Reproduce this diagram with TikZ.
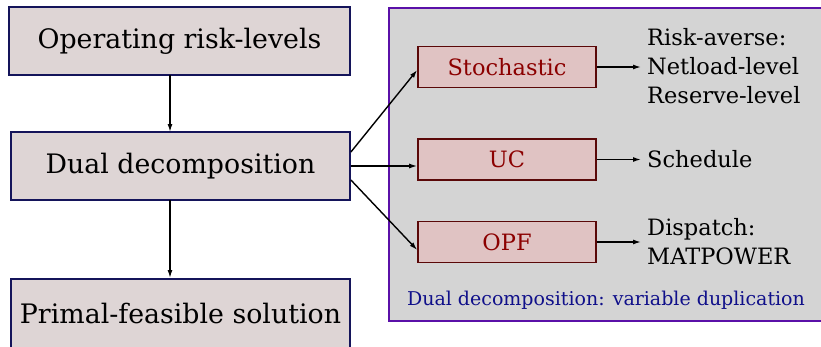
\documentclass[tikz,border=0pt]{standalone}
\usepackage{fontspec}
\setmainfont{DejaVu Serif}
\usetikzlibrary{arrows.meta}
\definecolor{boxfill}{HTML}{DED5D5}
\definecolor{boxline}{HTML}{14145A}
\definecolor{panelfill}{HTML}{D4D4D4}
\definecolor{panelline}{HTML}{5A10A8}
\definecolor{subfill}{HTML}{E0C3C3}
\definecolor{subline}{HTML}{5A0808}
\definecolor{subtext}{HTML}{8B0000}
\definecolor{captext}{HTML}{10108A}
\tikzset{
  x=1pt, y=-1pt,
  mainbox/.style={draw=boxline, fill=boxfill, line width=1.8pt, font=\fontsize{26.8}{30}\selectfont},
  subbox/.style={draw=subline, fill=subfill, line width=1.6pt, text=subtext, font=\fontsize{22.5}{26}\selectfont},
  result/.style={anchor=west, align=left, inner sep=0pt, font=\fontsize{22.5}{29}\selectfont},
  link/.style={line width=1.4pt, -{Latex[length=8pt,width=5pt]}},
}
\begin{document}
\begin{tikzpicture}
\useasboundingbox (0,0) rectangle (821,346);
\begin{scope}
\clip (0,0) rectangle (821,346);
% main flow
\node[mainbox, minimum width=341pt, minimum height=68pt] (risk) at (179.5,41) {Operating risk-levels};
\node[mainbox, minimum width=339pt, minimum height=68pt] (dual) at (180.5,166) {Dual decomposition};
\node[mainbox, minimum width=339pt, minimum height=70pt] (primal) at (180.5,314) {Primal-feasible solution};
% sub-problem panel
\node[draw=panelline, fill=panelfill, line width=1.6pt, minimum width=440pt, minimum height=313pt, anchor=north west] (panel) at (388,7) {};
\end{scope}
\node[subbox, minimum width=178pt, minimum height=41pt] (stoch) at (507,67) {Stochastic};
\node[subbox, minimum width=178pt, minimum height=41pt] (uc) at (507,159.5) {UC};
\node[subbox, minimum width=178pt, minimum height=41pt] (opf) at (507,242) {OPF};
\node[result] (r1) at (647,66) {Risk-averse:\\Netload-level\\Reserve-level};
\node[result] (r2) at (647,159) {Schedule};
\node[result] (r3) at (647,242) {Dispatch:\\MATPOWER};
\node[text=captext, font=\fontsize{19}{22}\selectfont] (cap) at (606,300) {Dual decomposition: variable duplication};
% connectors
\draw[link] (170,75) -- (170,132);
\draw[link] (170,200) -- (170,278);
\draw[link] ([yshift=14pt]dual.east) -- ([yshift=-3pt]stoch.west);
\draw[link] (dual.east) -- (uc.west |- dual.east);
\draw[link] ([yshift=-14pt]dual.east) -- ([yshift=-8pt]opf.west);
\draw[link, shorten >=6pt] (stoch.east) -- (stoch.east -| r1.west);
\draw[link, shorten >=6pt] (uc.east) -- (uc.east -| r2.west);
\draw[link, shorten >=6pt] (opf.east) -- (opf.east -| r3.west);
\end{tikzpicture}
\end{document}
